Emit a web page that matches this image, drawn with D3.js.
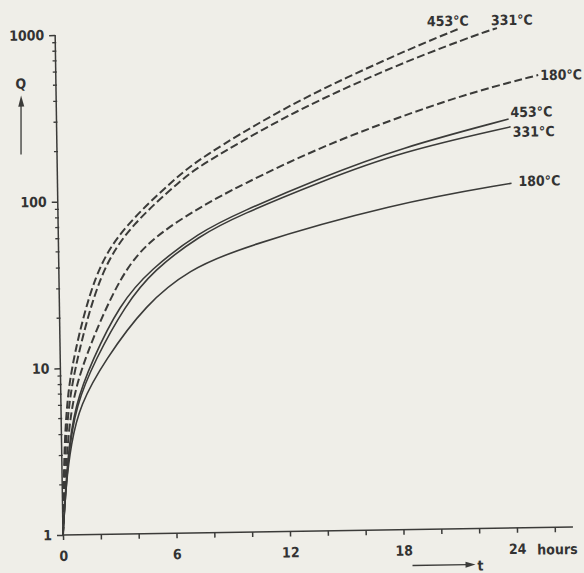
<!DOCTYPE html>
<html>
<head>
  <meta charset="UTF-8">
  <style>
    body { margin: 0; background: #efeee8; }
    text { font-family: "DejaVu Sans Condensed", "Liberation Sans Narrow", "DejaVu Sans", sans-serif; font-stretch: condensed; font-weight: bold; fill: #333; }
  </style>
</head>
<body>
<script src="https://d3js.org/d3.v7.min.js"></script>
<div id="my_dataviz"></div>
<script>

// readings: t in hours, Q on log scale
var dash453T = [0, 0.12, 0.3, 0.645, 1.91, 3.5, 6.11, 7.55, 11.82, 15.39, 18.9, 21.35];
var dash453Q = [1, 3, 6, 11.2, 38.6, 70.6, 131, 177, 338, 525, 779, 1000];

var dash331T = [0, 0.16, 0.4, 0.856, 2.18, 3.9, 6.59, 7.55, 11.81, 15.38, 18.9, 22.46, 23.36];
var dash331Q = [1, 3, 6, 11.2, 38.5, 72.4, 132.6, 160, 298, 458, 668, 933, 1000];

var dash180T = [0, 0.25, 0.55, 1.23, 3.34, 5.13, 7.51, 9.64, 13.9, 18.85, 22.4, 25.5];
var dash180Q = [1, 3, 6, 11.2, 38.4, 61.3, 90, 120, 201, 320, 427, 518];

var solid453T = [0, 0.3, 0.75, 1.68, 3.2, 4.8, 7.49, 9.62, 13.88, 18.13, 23.9];
var solid453Q = [1, 3, 6, 11.1, 24, 38.2, 64, 83, 131, 195, 284];

var solid331T = [0, 0.33, 0.8, 1.83, 3.49, 5.0, 7.49, 9.62, 13.88, 18.13, 24];
var solid331Q = [1, 3, 6, 11.1, 23.7, 38, 61, 80, 124, 184.5, 255];

var solid180T = [0, 0.2, 0.5, 1.0, 2.36, 4.6, 6.9, 9.59, 17.8, 24];
var solid180Q = [1, 2, 3.5, 6, 11.1, 24, 38, 51, 91, 117];

var seriesLabels = ["453°C", "331°C", "180°C", "453°C", "331°C", "180°C"];
var seriesDashed = [true, true, true, false, false, false];

var xTicks = [0, 2, 4, 6, 8, 10, 12, 14, 16, 18, 20, 22, 24, 26];
var xLabels = [0, 6, 12, 18, 24];
var yLabels = [1, 10, 100, 1000];

// label offsets from the curve end (layout only)
var labelOffsets = [[-32, -3], [-6, -3], [2, 5], [2, -2], [2, 10], [7, 3]];

var width = 584, height = 573;

var svg = d3.select("#my_dataviz")
  .append("svg")
    .attr("width", width)
    .attr("height", height);

svg.append("rect")
  .attr("width", width)
  .attr("height", height)
  .attr("fill", "#efeee8");

// the scan is turned slightly, so the whole plot is rotated a bit
var g = svg.append("g")
  .attr("transform", "translate(63,535) rotate(-0.9)");

var x = d3.scaleLinear().domain([0, 24]).range([0, 454]);
var y = d3.scaleLog().domain([1, 1000]).range([0, -500]);

var ink = "#3b3b39";

// x axis
g.append("line")
  .attr("x1", 0).attr("x2", 510)
  .attr("y1", 0).attr("y2", 0)
  .attr("stroke", ink).attr("stroke-width", 1.5);

var xAxis = g.append("g")
  .call(d3.axisBottom(x)
    .tickValues(xTicks)
    .tickSize(5)
    .tickPadding(11)
    .tickFormat(function(d) { return xLabels.indexOf(d) >= 0 ? d : ""; }));
xAxis.select(".domain").remove();
xAxis.selectAll("line").attr("stroke", ink).attr("stroke-width", 1.5);
xAxis.selectAll("text").attr("font-size", "14px").attr("font-family", null);

g.append("text")
  .attr("x", 474).attr("y", 27)
  .attr("font-size", "14px")
  .text("hours");

// t arrow
g.append("line")
  .attr("x1", 349).attr("x2", 404)
  .attr("y1", 36).attr("y2", 36)
  .attr("stroke", ink).attr("stroke-width", 1.3);
g.append("path")
  .attr("d", "M402,33 L412,36 L402,39 Z")
  .attr("fill", ink);
g.append("text")
  .attr("x", 414).attr("y", 42)
  .attr("font-size", "14px")
  .text("t");

// y axis
g.append("line")
  .attr("x1", 0).attr("x2", 0)
  .attr("y1", 0).attr("y2", -500)
  .attr("stroke", ink).attr("stroke-width", 1.5);

var yAxis = g.append("g")
  .call(d3.axisLeft(y)
    .tickValues(yLabels)
    .tickSize(6)
    .tickPadding(5)
    .tickFormat(d3.format("d")));
yAxis.select(".domain").remove();
yAxis.selectAll("line").attr("stroke", ink).attr("stroke-width", 1.5);
yAxis.selectAll("text").attr("font-size", "14px").attr("font-family", null);

var minor = [];
[1, 10, 100].forEach(function(dec) {
  for (var k = 2; k <= 9; k++) minor.push(dec * k);
});
g.append("g")
  .selectAll("line")
  .data(minor)
  .enter()
  .append("line")
    .attr("x1", -3).attr("x2", 1)
    .attr("y1", function(d) { return y(d); })
    .attr("y2", function(d) { return y(d); })
    .attr("stroke", ink).attr("stroke-width", 1.3);

// Q label with arrow
g.append("text")
  .attr("x", -35).attr("y", -447)
  .attr("text-anchor", "middle")
  .attr("font-size", "14px")
  .text("Q");
g.append("line")
  .attr("x1", -36).attr("x2", -35.2)
  .attr("y1", -381).attr("y2", -430)
  .attr("stroke", ink).attr("stroke-width", 1.3);
g.append("path")
  .attr("d", "M-38,-429 L-35,-440 L-32,-429 Z")
  .attr("fill", ink);

// curves
var allT = [dash453T, dash331T, dash180T, solid453T, solid331T, solid180T];
var allQ = [dash453Q, dash331Q, dash180Q, solid453Q, solid331Q, solid180Q];

var dataset = allT.map(function(ts, i) {
  return {
    label: seriesLabels[i],
    dashed: seriesDashed[i],
    off: labelOffsets[i],
    points: ts.map(function(t, j) { return {t: t, q: allQ[i][j]}; })
  };
});

var line = d3.line()
  .x(function(d) { return x(d.t); })
  .y(function(d) { return y(d.q); })
  .curve(d3.curveBasis);

g.append("g")
  .selectAll("path")
  .data(dataset)
  .enter()
  .append("path")
    .attr("d", function(d) { return line(d.points); })
    .attr("fill", "none")
    .attr("stroke", ink)
    .attr("stroke-width", function(d) { return d.dashed ? 2 : 1.6; })
    .attr("stroke-dasharray", function(d) { return d.dashed ? "8,3.5" : null; });

g.append("g")
  .selectAll("text")
  .data(dataset)
  .enter()
  .append("text")
    .attr("x", function(d) { var p = d.points[d.points.length - 1]; return x(p.t) + d.off[0]; })
    .attr("y", function(d) { var p = d.points[d.points.length - 1]; return y(p.q) + d.off[1]; })
    .attr("font-size", "14px")
    .text(function(d) { return d.label; });

</script>
</body>
</html>
